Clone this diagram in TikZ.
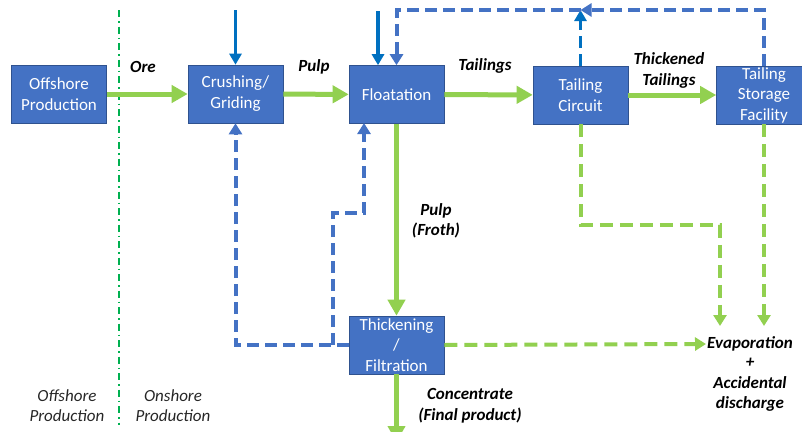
\documentclass[tikz,border=0pt]{standalone}
\usepackage{fontspec}
\setmainfont{Carlito}
\usetikzlibrary{arrows.meta}
\definecolor{boxblue}{HTML}{4472C4}
\definecolor{boxedge}{HTML}{2F528F}
\definecolor{flowgreen}{HTML}{92D050}
\definecolor{feedblue}{HTML}{0070C0}
\definecolor{shoregreen}{HTML}{00B050}
\begin{document}
\begin{tikzpicture}[x=1pt,y=-1pt,
  unit/.style={draw=boxedge,line width=0.6pt,fill=boxblue,text=white,minimum width=95pt,minimum height=58pt,inner sep=1pt,align=center,font=\fontsize{17}{21}\selectfont},
  flowlabel/.style={align=center,inner sep=1pt,font=\fontsize{17}{21}\selectfont\bfseries\itshape},
  sidelabel/.style={align=center,inner sep=1pt,text=black!85,font=\fontsize{17}{20}\selectfont\itshape},
  flow/.style={draw=flowgreen,line width=5pt,-{Triangle[length=16pt,width=17pt]}},
  spill/.style={draw=flowgreen,line width=4pt,dash pattern=on 13pt off 7pt,-{Triangle[length=11pt,width=13pt]}},
  feed/.style={draw=feedblue,line width=3.5pt,-{Triangle[length=11pt,width=12pt]}},
  recycle/.style={draw=boxblue,line width=4pt,dash pattern=on 12pt off 6pt,-{Triangle[length=11pt,width=13pt]}},
  shore/.style={draw=shoregreen,line width=1.6pt,dash pattern=on 7pt off 4pt on 1.5pt off 4pt}]
\useasboundingbox (0,0) rectangle (802,431);

% process units
\draw (59,94) node[unit] (Off) {Offshore\\Production};
\draw (235.5,94) node[unit] (Crush) {Crushing/\\Griding};
\draw (396.5,94.5) node[unit] (Flot) {Floatation};
\draw (580.5,95) node[unit] (TC) {Tailing\\Circuit};
\draw (764,95) node[unit,inner ysep=0pt,font=\fontsize{17}{20.5}\selectfont] (TSF) {Tailing\\Storage\\Facility};
\draw (396.5,345) node[unit,inner ysep=0pt,font=\fontsize{17}{20.5}\selectfont] (Thick) {Thickening\\/\\Filtration};

% labels
\draw (143,67) node[flowlabel] (LOre) {Ore};
\draw (314,67) node[flowlabel] (LPulp) {Pulp};
\draw (485,66) node[flowlabel] (LTail) {Tailings};
\draw (669,70.5) node[flowlabel] (LThick) {Thickened\\Tailings};
\draw (436,221) node[flowlabel,font=\fontsize{17}{20}\selectfont\bfseries\itshape] (LFroth) {Pulp\\(Froth)};
\draw (470,405.5) node[flowlabel] (LConc) {Concentrate\\(Final product)};
\draw (750,344) node[flowlabel] (Evap) {Evaporation};
\draw (750,385) node[flowlabel,font=\fontsize{17}{20.5}\selectfont\bfseries\itshape] (Disch) {+\\Accidental\\discharge};
\draw (67,406) node[sidelabel] (LOffshore) {Offshore\\Production};
\draw (173,406) node[sidelabel] (LOnshore) {Onshore\\Production};

% free ends
\coordinate (ShoreTop) at (119,10);
\coordinate (ShoreBot) at (119,425);
\coordinate (CrushFeed) at (235.5,10);
\coordinate (FlotFeed) at (378,11);
\coordinate (Junction) at (580.5,10);
\coordinate (Split) at (333,345);
\coordinate (Product) at (396.5,442);

% shore line
\draw[shore] (ShoreTop) -- (ShoreBot);

% main flow
\draw[flow] (Off) -- (Crush);
\draw[flow] (Crush) -- (Flot);
\draw[flow] (Flot) -- (TC);
\draw[flow] (TC) -- (TSF);
\draw[flow] (Flot) -- (Thick);
\draw[flow] (Thick) -- (Product);

% feeds
\draw[feed] (CrushFeed) -- (Crush);
\draw[feed] (FlotFeed) -- (FlotFeed |- Flot.north);
\draw[feed,dash pattern=on 12pt off 6pt] (TC) -- (Junction);

% water recycle
\draw[recycle] (TSF.north) |- (Junction);
\draw[recycle] (Junction) -| (Flot.north);
\draw[recycle] (Thick.west) -| (Crush.south);
\draw[recycle] (Split) |- (364,213) -- (364,123);

% losses
\draw[spill] (TC.south) |- (720,225) -- (720,326);
\draw[spill] (TSF.south) -- (764,326);
\draw[spill] (Thick.east) -- (Evap.west);

\end{tikzpicture}
\end{document}
